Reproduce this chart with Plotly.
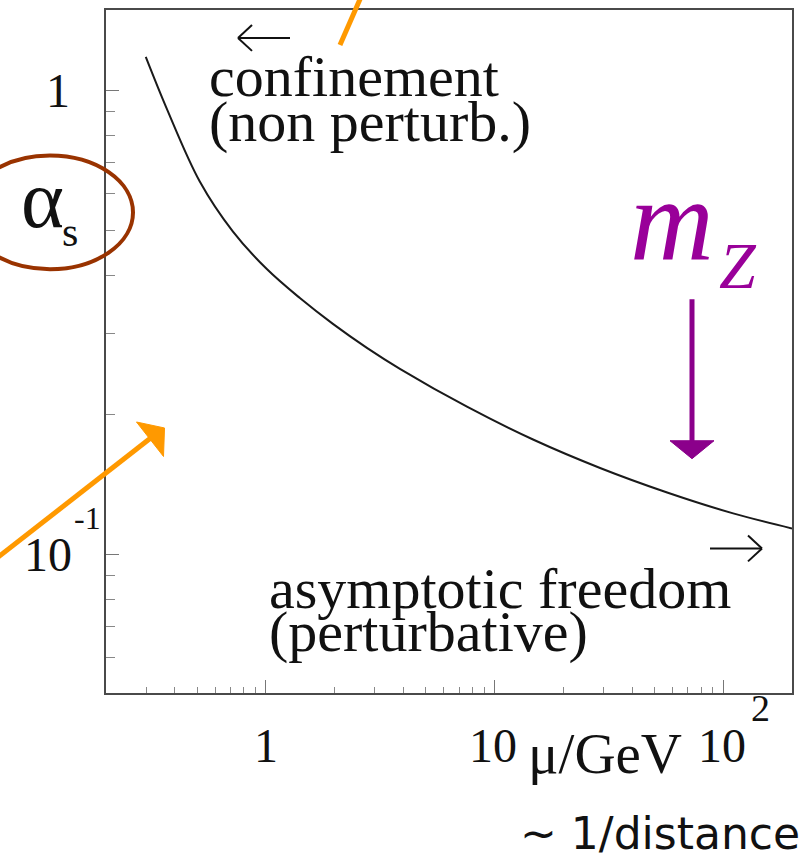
import math
import plotly.graph_objects as go

# Running strong coupling: scale mu (GeV) and alpha_s
mu_gev = [0.2985, 0.3687, 0.5142, 0.7169, 1.010, 1.409, 1.965, 2.767, 3.858,
          7.579, 14.74, 28.95, 56.88, 110.6, 200.0]
alpha_s = [1.183, 0.915, 0.637, 0.4973, 0.4123, 0.3570, 0.3140, 0.2788, 0.2512,
           0.2081, 0.1768, 0.1535, 0.1359, 0.1225, 0.1137]

# Axis ticks
x_major = [1, 10, 100]
x_minor = [0.2, 0.3, 0.4, 0.5, 0.6, 0.7, 0.8, 0.9,
           2, 3, 4, 5, 6, 7, 8, 9,
           20, 30, 40, 50, 60, 70, 80, 90, 200]
x_tick_base = ["1", "10", "10"]
x_tick_exp = ["", "", "2"]

y_major = [1, 0.1]
y_minor = [0.9, 0.8, 0.7, 0.6, 0.5, 0.4, 0.3, 0.2,
           0.09, 0.08, 0.07, 0.06, 0.05]
y_tick_base = ["1", "10"]
y_tick_exp = ["", "-1"]

x_range = [math.log10(0.2), math.log10(200)]
y_range = [math.log10(0.0502), math.log10(1.493)]

# Page geometry (pixels) and helpers to map to paper coordinates
W, H = 805, 867
L, R, T, B = 106, 792, 8, 693


def px(x):
    return (x - L) / (R - L)


def py(y):
    return (B - y) / (B - T)


SERIF = "Liberation Serif, Times New Roman, DejaVu Serif, serif"
INK = "#111111"
ORANGE = "#FF9900"
PURPLE = "#8B008B"
BROWN = "#993300"

fig = go.Figure()
fig.add_trace(go.Scatter(
    x=mu_gev, y=alpha_s, mode="lines",
    line=dict(color="#1a1a1a", width=2, shape="spline", smoothing=1.0),
    hoverinfo="skip", showlegend=False,
))

axis_common = dict(
    type="log", showgrid=False, zeroline=False, showticklabels=False,
    ticks="inside", tickcolor="#777777", tickwidth=1,
    showline=True, linecolor="#4a4a4a", linewidth=2, mirror=True,
)

fig.update_xaxes(range=x_range, tickvals=x_major, ticklen=13,
                 minor=dict(tickvals=x_minor, ticks="inside", ticklen=6,
                            tickcolor="#888888", tickwidth=1, showgrid=False),
                 **axis_common)
fig.update_yaxes(range=y_range, tickvals=y_major, ticklen=13,
                 minor=dict(tickvals=y_minor, ticks="inside", ticklen=9,
                            tickcolor="#888888", tickwidth=1, showgrid=False),
                 **axis_common)

ann = []


def text(x, y, s, size, color=INK, family=SERIF, xanchor="center", **kw):
    ann.append(dict(x=x, y=y, text=s, showarrow=False, xanchor=xanchor,
                    yanchor="middle", font=dict(size=size, color=color, family=family),
                    **kw))


# x tick labels
x_label_xshift = [0, -2, -1]
for v, base, exp, dx in zip(x_major, x_tick_base, x_tick_exp, x_label_xshift):
    text(math.log10(v), py(746), base, 48, xref="x", yref="paper", xshift=dx)
    if exp:
        text(math.log10(v), py(708), exp, 38, xref="x", yref="paper", xshift=37)

# y tick labels
y_label_x = [58, 48]
for v, base, exp, lx in zip(y_major, y_tick_base, y_tick_exp, y_label_x):
    text(px(lx), math.log10(v), base, 48, xref="paper", yref="y")
    if exp:
        text(px(87), math.log10(v), exp, 32, xref="paper", yref="y", yshift=36)

# axis titles
text(px(605), py(754), "\u03bc/GeV", 57, xref="paper", yref="paper")
text(px(42), py(198), "\u03b1", 82, xref="paper", yref="paper")
text(px(70), py(231), "s", 42, xref="paper", yref="paper")
text(px(802), py(834), "~ 1/distance", 44, family="DejaVu Sans, sans-serif",
     xanchor="right", xref="paper", yref="paper")

# region labels
text(px(207), py(75), "confinement", 58, xanchor="left", xref="paper", yref="paper")
text(px(207), py(120), "(non perturb.)", 58, xanchor="left", xref="paper", yref="paper")
text(px(267), py(588), "asymptotic freedom", 58, xanchor="left", xref="paper", yref="paper")
text(px(267), py(631), "(perturbative)", 58, xanchor="left", xref="paper", yref="paper")

# Z mass marker
text(px(672), py(219), "<i>m</i>", 116, color="#990099", xref="paper", yref="paper")
text(px(738), py(264), "<i>Z</i>", 66, color="#990099", xref="paper", yref="paper")

fig.update_layout(annotations=ann)


def seg(x0, y0, x1, y1, color, width):
    return dict(type="line", xref="paper", yref="paper",
                x0=px(x0), y0=py(y0), x1=px(x1), y1=py(y1),
                line=dict(color=color, width=width))


def tri(pts, color):
    path = "M " + " L ".join(f"{px(a):.5f},{py(b):.5f}" for a, b in pts) + " Z"
    return dict(type="path", xref="paper", yref="paper", path=path,
                fillcolor=color, line=dict(color=color, width=1))


shapes = [
    # brown ring around the coupling symbol
    dict(type="circle", xref="paper", yref="paper",
         x0=px(-33), x1=px(133), y0=py(268), y1=py(154),
         line=dict(color=BROWN, width=4)),
    # orange pointers
    seg(340, 43, 364, -12, ORANGE, 5),
    seg(-6, 560, 151, 437, ORANGE, 5),
    tri([(136.5, 421.2), (164.5, 427.2), (163.5, 455.8)], ORANGE),
    # purple arrow down to m_Z
    seg(692, 298, 692, 442, PURPLE, 5),
    tri([(670, 440), (714, 440), (692, 458)], PURPLE),
    # thin black direction arrows: towards low scale and high scale
    seg(238, 36, 290, 36, INK, 2),
    seg(238, 36, 252, 23, INK, 2),
    seg(238, 36, 252, 49, INK, 2),
    seg(710, 548, 762, 548, INK, 2),
    seg(762, 548, 748, 535, INK, 2),
    seg(762, 548, 748, 561, INK, 2),
]
fig.update_layout(shapes=shapes)

fig.update_layout(
    width=W, height=H,
    margin=dict(l=L, r=W - R, t=T, b=H - B, pad=0),
    paper_bgcolor="white", plot_bgcolor="white",
    showlegend=False,
)

fig.write_html("out.html")
